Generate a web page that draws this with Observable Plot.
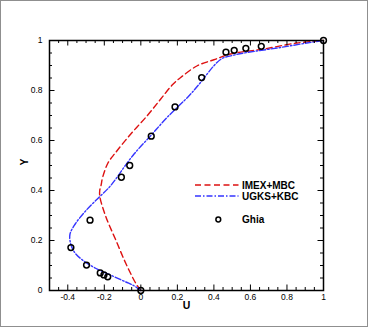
<!DOCTYPE html>
<html><head><meta charset="utf-8">
<script src="https://cdn.jsdelivr.net/npm/d3@7"></script>
<script src="https://cdn.jsdelivr.net/npm/@observablehq/plot@0.6"></script>
<style>
html,body{margin:0;padding:0;background:#fff;}
#wrap{position:relative;width:368px;height:327px;overflow:hidden;background:#fff;}
#border{position:absolute;left:0;top:0;width:368px;height:327px;box-sizing:border-box;border:1px solid #8f8f8f;pointer-events:none;}
</style></head><body><div id="wrap"><div id="border"></div></div>
<script>
// ---- data ----
const ghiaU = [1, 0.65928, 0.57492, 0.51117, 0.46604, 0.33304, 0.18719, 0.05702, -0.0608, -0.10648, -0.27805, -0.38289, -0.2973, -0.2222, -0.20196, -0.18109, 0];
const ghiaY = [1, 0.9766, 0.9688, 0.9609, 0.9531, 0.8516, 0.7344, 0.6172, 0.5, 0.4531, 0.2813, 0.1719, 0.1016, 0.0703, 0.0625, 0.0547, 0];

const imexU = [0, -0.027, -0.082, -0.136, -0.191, -0.224, -0.225, -0.218, -0.209, -0.18, -0.14, -0.055, 0.036, 0.109, 0.173, 0.218, 0.309, 0.4, 0.491, 0.673, 0.855, 1];
const imexY = [0, 0.028, 0.108, 0.2, 0.294, 0.374, 0.4, 0.42, 0.453, 0.51, 0.55, 0.626, 0.7, 0.766, 0.823, 0.852, 0.899, 0.923, 0.946, 0.966, 0.99, 1];

const ugksU = [0, -0.04, -0.082, -0.164, -0.245, -0.318, -0.364, -0.385, -0.388, -0.36, -0.3, -0.227, -0.173, -0.136, -0.09, -0.036, 0.055, 0.145, 0.264, 0.327, 0.4, 0.445, 0.5, 0.582, 0.764, 0.909, 1];
const ugksY = [0, 0.02, 0.034, 0.061, 0.088, 0.121, 0.154, 0.19, 0.225, 0.265, 0.32, 0.374, 0.413, 0.447, 0.495, 0.547, 0.62, 0.693, 0.779, 0.832, 0.899, 0.928, 0.94, 0.952, 0.972, 0.99, 1];

const xTicks = [-0.4, -0.2, 0, 0.2, 0.4, 0.6, 0.8, 1];
const yTicks = [0, 0.2, 0.4, 0.6, 0.8, 1];
const seriesNames = ["IMEX+MBC", "UGKS+KBC", "Ghia"];

// ---- layout ----
const W = 368, H = 327, mL = 49, mR = 45, mT = 40, mB = 37;
const FW = W - mL - mR, FH = H - mT - mB;
const MAJ = 5.5, MIN = 3;
const xMinor = d3.range(-0.5, 1.0001, 0.05).map(v => +v.toFixed(2)).filter(v => !xTicks.some(t => Math.abs(t - v) < 1e-6));
const yMinor = d3.range(0, 1.0001, 0.05).map(v => +v.toFixed(2)).filter(v => !yTicks.some(t => Math.abs(t - v) < 1e-6));

const toRows = (us, ys) => us.map((u, i) => ({u, y: ys[i]}));
const ghia = toRows(ghiaU, ghiaY);
const imex = toRows(imexU, imexY);
const ugks = toRows(ugksU, ugksY);

const RED = "#dd1111", BLUE = "#3535ff";
const tk = {stroke: "black", strokeWidth: 1};

const chart = Plot.plot({
  width: W, height: H,
  marginLeft: mL, marginRight: mR, marginTop: mT, marginBottom: mB,
  style: {fontFamily: "'Liberation Sans', Arial, Helvetica, sans-serif", fontSize: "8.5px", background: "transparent", color: "black"},
  x: {domain: [-0.5, 1]},
  y: {domain: [0, 1]},
  marks: [
    Plot.line(imex, {x: "u", y: "y", stroke: RED, strokeWidth: 1.4, strokeDasharray: "6,3.5", curve: "catmull-rom"}),
    Plot.line(ugks, {x: "u", y: "y", stroke: BLUE, strokeWidth: 1.4, strokeDasharray: "6,2,1.5,2", curve: "catmull-rom"}),
    Plot.dot(ghia, {x: "u", y: "y", r: 2.9, stroke: "black", strokeWidth: 1.5, fill: "none"}),
    // inward ticks
    Plot.tickX(xTicks, {x: d => d, insetTop: FH - MAJ, ...tk}),
    Plot.tickX(xTicks, {x: d => d, insetBottom: FH - MAJ, ...tk}),
    Plot.tickX(xMinor, {x: d => d, insetTop: FH - MIN, ...tk}),
    Plot.tickX(xMinor, {x: d => d, insetBottom: FH - MIN, ...tk}),
    Plot.tickY(yTicks, {y: d => d, insetRight: FW - MAJ, ...tk}),
    Plot.tickY(yTicks, {y: d => d, insetLeft: FW - MAJ, ...tk}),
    Plot.tickY(yMinor, {y: d => d, insetRight: FW - MIN, ...tk}),
    Plot.tickY(yMinor, {y: d => d, insetLeft: FW - MIN, ...tk}),
    Plot.frame({stroke: "black", strokeWidth: 1.5}),
    Plot.axisX({ticks: xTicks, tickSize: 0, tickPadding: 3, tickFormat: d => String(d), label: null, fontSize: 8.5}),
    Plot.axisY({ticks: yTicks, tickSize: 0, tickPadding: 7, tickFormat: d => String(d), label: null, fontSize: 8.5}),
    Plot.text(["U"], {frameAnchor: "bottom", dy: 18, text: d => d, fontWeight: "bold", fontSize: 10.5}),
    Plot.text(["Y"], {frameAnchor: "left", dx: -25, text: d => d, rotate: -90, fontWeight: "bold", fontSize: 10.5})
  ]
});
document.getElementById("wrap").prepend(chart);

// ---- legend ----
const svg = d3.select(chart);
const lg = svg.append("g").attr("font-family", "'Liberation Sans', Arial, sans-serif").attr("font-size", 10).attr("font-weight", "bold").attr("text-anchor", "start");
lg.append("line").attr("x1", 195).attr("x2", 238.5).attr("y1", 185).attr("y2", 185).attr("stroke", RED).attr("stroke-width", 1.4).attr("stroke-dasharray", "6,3.5");
lg.append("line").attr("x1", 195).attr("x2", 238.5).attr("y1", 196).attr("y2", 196).attr("stroke", BLUE).attr("stroke-width", 1.4).attr("stroke-dasharray", "6,2,1.5,2");
lg.append("circle").attr("cx", 218.3).attr("cy", 219.5).attr("r", 2.4).attr("fill", "none").attr("stroke", "black").attr("stroke-width", 1.5);
[185, 196.5, 219.5].forEach((yy, i) => {
  lg.append("text").attr("x", 242).attr("y", yy).attr("dy", "0.35em").attr("fill", "black").attr("text-anchor", "start").text(seriesNames[i]);
});
</script></body></html>
